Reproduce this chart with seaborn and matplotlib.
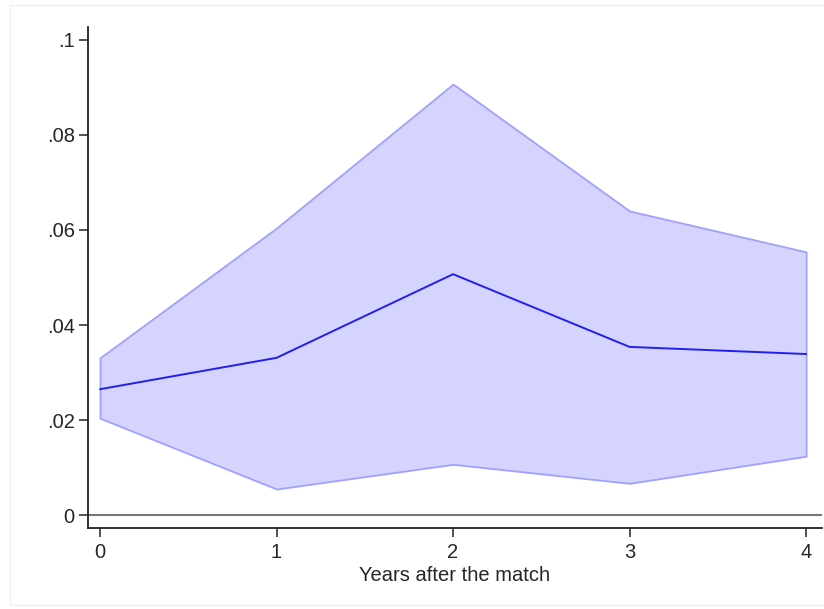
import matplotlib
matplotlib.use("Agg")
import matplotlib.pyplot as plt
import seaborn as sns
import pandas as pd
from matplotlib.patches import Rectangle

years = [0, 1, 2, 3, 4]
estimate = [0.0265, 0.0331, 0.0507, 0.0354, 0.0339]
ci_lower = [0.0204, 0.0055, 0.0107, 0.0067, 0.0124]
ci_upper = [0.0331, 0.0604, 0.0907, 0.0640, 0.0554]
ytick_vals = [0, 0.02, 0.04, 0.06, 0.08, 0.1]
ytick_labels = ["0", ".02", ".04", ".06", ".08", ".1"]
xlabel = "Years after the match"

sns.set_style("ticks")
plt.rcParams['font.family'] = ['Liberation Sans', 'DejaVu Sans']

df = pd.DataFrame({"year": years, "est": estimate, "lo": ci_lower, "hi": ci_upper})

fig = plt.figure(figsize=(8.24, 6.09), dpi=100)
fig.patch.set_facecolor("white")
fig.patches.append(Rectangle((10/824, 1-605/609), 830/824, 600/609, transform=fig.transFigure,
                             fill=False, edgecolor="#f0f0f0", linewidth=1))
ax = fig.add_axes([88/824, 1-528/609, 734/824, 501/609])

ax.fill_between(df["year"], df["lo"], df["hi"], facecolor="#d4d4ff", edgecolor="#a0a0ff",
                linewidth=1.3, zorder=1)
ax.axhline(0, color="#777777", linewidth=1.5, zorder=2)
sns.lineplot(data=df, x="year", y="est", ax=ax, color="#2020f0", linewidth=1.4, zorder=3)

ax.set_xlim(-0.068, 4.09)
ax.set_ylim(-0.0027, 0.1027)
ax.set_xticks(years)
ax.set_xticklabels([str(y) for y in years])
ax.set_yticks(ytick_vals)
ax.set_yticklabels(ytick_labels)
ax.set_xlabel(xlabel, fontsize=14.5, labelpad=3)
ax.set_ylabel("")
ax.tick_params(axis="x", labelsize=14.5, length=6.5, width=1.2, color="#333333", pad=4.5)
ax.tick_params(axis="y", labelsize=14.5, length=6.5, width=1.2, color="#333333", pad=3)
for s in ["top", "right"]:
    ax.spines[s].set_visible(False)
for s in ["left", "bottom"]:
    ax.spines[s].set_linewidth(1.3)
    ax.spines[s].set_color("#222222")

fig.savefig("out.png", dpi=100, facecolor="white")
